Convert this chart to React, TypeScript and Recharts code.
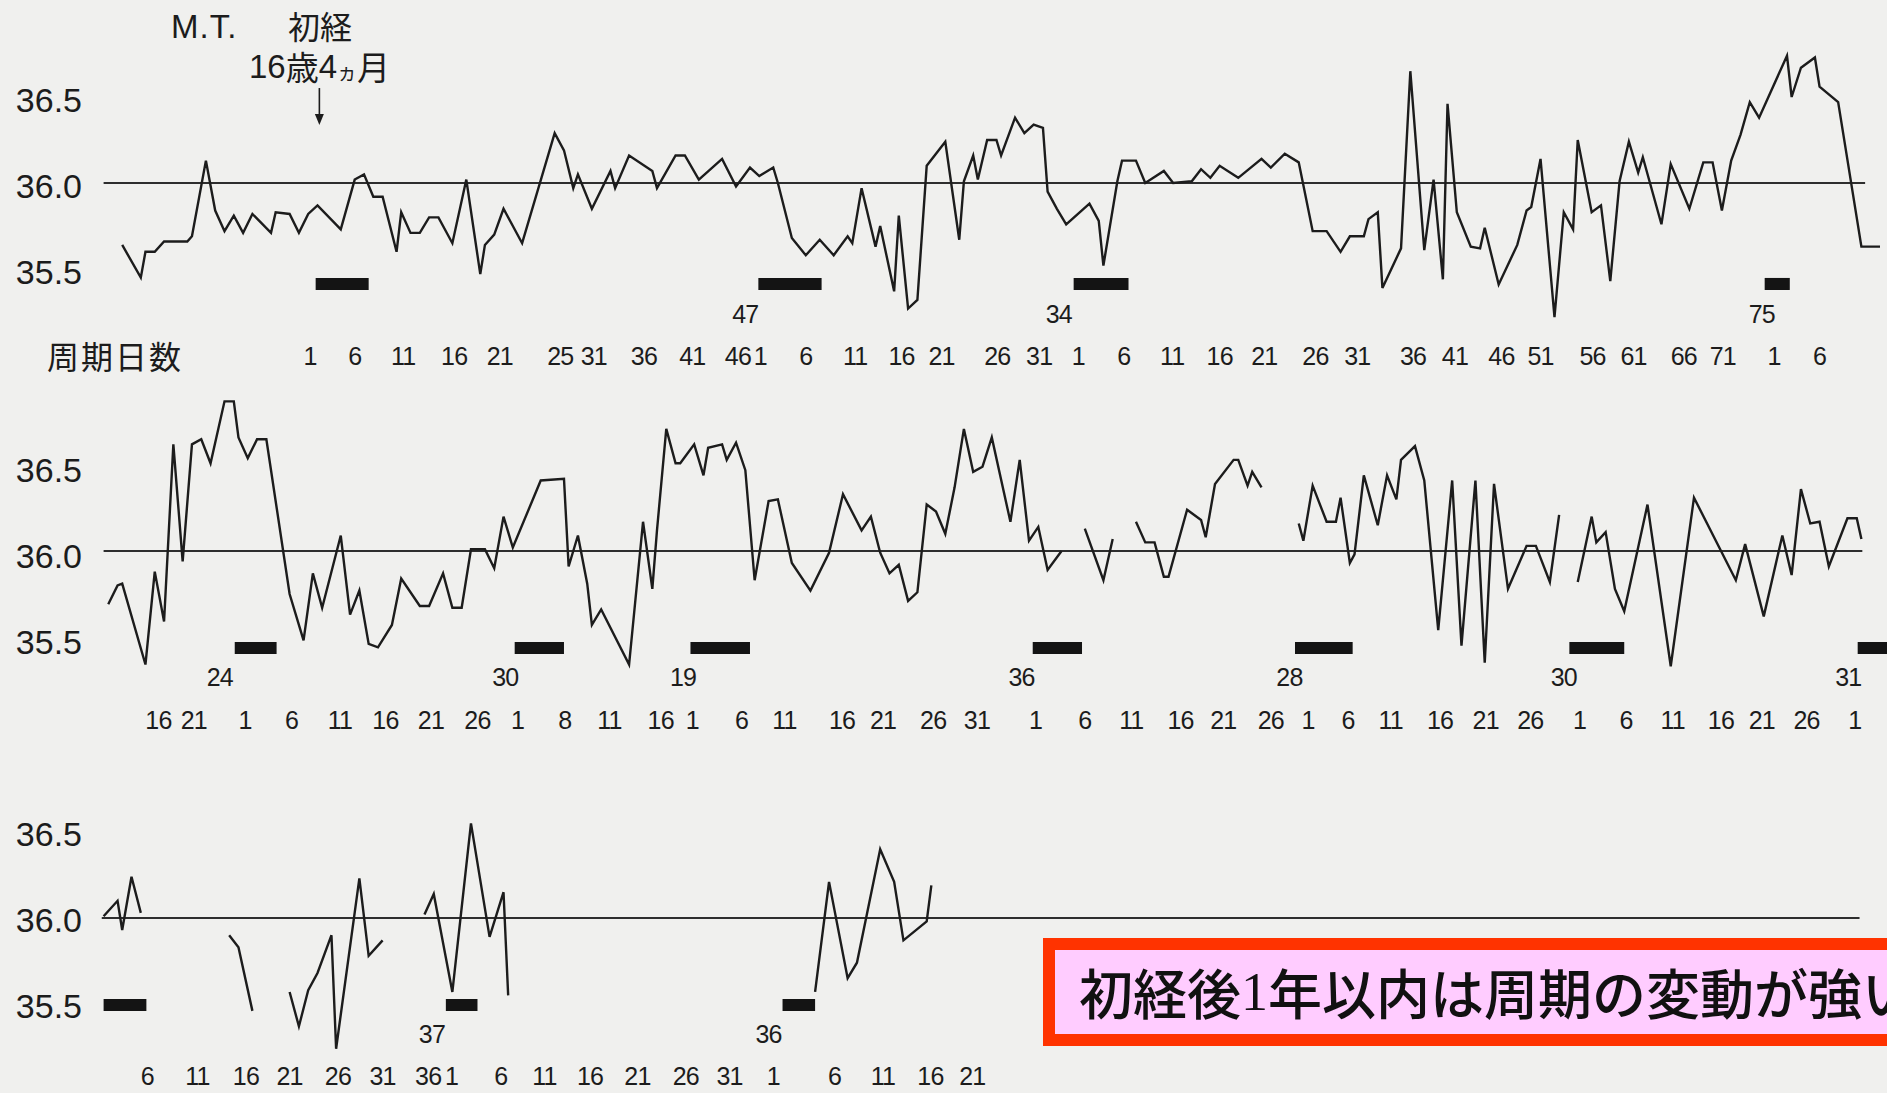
import {
  Line,
  LineChart,
  ReferenceArea,
  ReferenceDot,
  ReferenceLine,
  XAxis,
  YAxis,
} from "recharts";

// basal body temperature, [day index, °C]; null marks a break in the record
type Reading = [number, number | null];
type Label = [number, string];
type Span = [number, number];

const tempTicks = [35.5, 36.0, 36.5];

const row1Temps: Reading[] = [
  [2, 35.64], [4, 35.45], [4.5, 35.6], [5.5, 35.6], [6.5, 35.66], [9, 35.66], [9.5, 35.69],
  [11, 36.13], [12, 35.84], [13, 35.72], [14, 35.81], [15, 35.71], [16, 35.82], [18, 35.71],
  [18.5, 35.83], [20, 35.82], [21, 35.71], [22, 35.82], [23, 35.87], [25.5, 35.73], [27, 36.02],
  [28, 36.05], [29, 35.92], [30, 35.92], [31.5, 35.6], [32, 35.83], [33, 35.71], [34, 35.71],
  [35, 35.8], [36, 35.8], [37.5, 35.65], [39, 36.02], [40.5, 35.47], [41, 35.64], [42, 35.7],
  [43, 35.85], [45, 35.65], [48.5, 36.29], [49.5, 36.19], [50.5, 35.97], [51, 36.05],
  [52.5, 35.85], [54.5, 36.07], [55, 35.97], [56.5, 36.16], [59, 36.07], [59.5, 35.97],
  [61.5, 36.16], [62.5, 36.16], [64, 36.02], [66.5, 36.14], [68, 35.98], [69.5, 36.09],
  [70.5, 36.04], [72, 36.09], [72.5, 36.0], [74, 35.68], [75.5, 35.58], [77, 35.67],
  [78.5, 35.58], [80, 35.69], [80.5, 35.65], [81.5, 35.97], [83, 35.63], [83.5, 35.75],
  [85, 35.37], [85.5, 35.81], [86.5, 35.27], [87.5, 35.32], [88.5, 36.1], [90.5, 36.24],
  [92, 35.67], [92.5, 36.01], [93.5, 36.16], [94, 36.02], [95, 36.25], [96, 36.25],
  [96.5, 36.16], [98, 36.38], [99, 36.29], [100, 36.34], [101, 36.32], [101.5, 35.95],
  [102.5, 35.85], [103.5, 35.76], [106, 35.88], [107, 35.78], [107.5, 35.52], [109, 36.01],
  [109.5, 36.13], [111, 36.13], [112, 36.0], [114, 36.07], [115, 36.0], [117, 36.01],
  [118, 36.08], [119, 36.03], [120, 36.1], [122, 36.03], [124.5, 36.14], [125.5, 36.09],
  [127, 36.17], [128.5, 36.12], [130, 35.72], [131.5, 35.72], [133, 35.6], [134, 35.69],
  [135.5, 35.69], [136, 35.79], [137, 35.83], [137.5, 35.39], [139.5, 35.62], [140.5, 36.65],
  [142, 35.61], [143, 36.02], [144, 35.44], [144.5, 36.46], [145.5, 35.83], [147, 35.63],
  [148, 35.62], [148.5, 35.74], [150, 35.41], [152, 35.64], [153, 35.84], [153.5, 35.86],
  [154.5, 36.14], [156, 35.22], [157, 35.83], [158, 35.73], [158.5, 36.25], [160, 35.83],
  [161, 35.87], [162, 35.43], [163, 36.01], [164, 36.24], [165, 36.06], [165.5, 36.15],
  [167.5, 35.76], [168.5, 36.11], [170.5, 35.85], [172, 36.12], [173, 36.12], [174, 35.84],
  [175, 36.13], [176, 36.28], [177, 36.47], [178, 36.38], [181, 36.74], [181.5, 36.5],
  [182.5, 36.67], [184, 36.73], [184.5, 36.56], [186.5, 36.47], [189, 35.63], [191, 35.63],
];

const row1Days: Label[] = [
  [22.2, "1"], [27, "6"], [32.2, "11"], [37.7, "16"], [42.6, "21"], [49.1, "25"], [52.7, "31"],
  [58.1, "36"], [63.3, "41"], [68.2, "46"], [70.6, "1"], [75.5, "6"], [80.8, "11"], [85.8, "16"],
  [90.1, "21"], [96.1, "26"], [100.6, "31"], [104.8, "1"], [109.7, "6"], [114.9, "11"],
  [120, "16"], [124.8, "21"], [130.3, "26"], [134.8, "31"], [140.8, "36"], [145.3, "41"],
  [150.3, "46"], [154.5, "51"], [160.1, "56"], [164.5, "61"], [169.9, "66"], [174.1, "71"],
  [179.6, "1"], [184.5, "6"],
];
const row1Cycles: Label[] = [[69, "47"], [102.7, "34"], [178.3, "75"]];
const row1Menses: Span[] = [[22.8, 28.5], [70.4, 77.2], [104.3, 110.2], [178.6, 181.3]];

const row2Temps: Reading[] = [
  [0.5, 35.69], [1.5, 35.8], [2, 35.81], [4.5, 35.34], [5.5, 35.88], [6.5, 35.59], [7.5, 36.62],
  [8.5, 35.94], [9.5, 36.62], [10.5, 36.65], [11.5, 36.51], [13, 36.87], [14, 36.87],
  [14.5, 36.66], [15.5, 36.54], [16.5, 36.65], [17.5, 36.65], [20, 35.75], [21.5, 35.48],
  [22.5, 35.87], [23.5, 35.67], [25.5, 36.09], [26.5, 35.63], [27.5, 35.77], [28.5, 35.46],
  [29.5, 35.44], [31, 35.57], [32, 35.84], [34, 35.68], [35, 35.68], [36.5, 35.87],
  [37.5, 35.67], [38.5, 35.67], [39.5, 36.01], [41, 36.01], [42, 35.9], [43, 36.2], [44, 36.02],
  [47, 36.41], [49.5, 36.42], [50, 35.91], [51, 36.09], [52, 35.81], [52.5, 35.57],
  [53.5, 35.66], [56.5, 35.34], [58, 36.17], [59, 35.78], [59.5, 36.12], [60.5, 36.71],
  [61.5, 36.51], [62, 36.51], [63.5, 36.62], [64.5, 36.44], [65, 36.6], [66.5, 36.62],
  [67, 36.53], [68, 36.63], [69, 36.47], [70, 35.83], [71.5, 36.29], [72.5, 36.3], [74, 35.93],
  [76, 35.77], [78, 35.99], [79.5, 36.33], [81.5, 36.12], [82.5, 36.2], [83.5, 35.99],
  [84.5, 35.87], [85.5, 35.92], [86.5, 35.71], [87.5, 35.76], [88.5, 36.27], [89.5, 36.23],
  [90.5, 36.1], [91.5, 36.37], [92.5, 36.71], [93.5, 36.46], [94.5, 36.49], [95.5, 36.66],
  [97.5, 36.17], [98.5, 36.53], [99.5, 36.06], [100.5, 36.14], [101.5, 35.89], [103, 36.0],
  [104, null],
  [105.5, 36.13], [107.5, 35.83], [108.5, 36.07],
  [110, null],
  [111, 36.17], [112, 36.05], [113, 36.05], [114, 35.85], [114.5, 35.85], [116.5, 36.24],
  [118, 36.18], [118.5, 36.08], [119.5, 36.39], [121.5, 36.53], [122, 36.53], [123, 36.38],
  [123.5, 36.46], [124.5, 36.37],
  [126, null],
  [128.5, 36.16], [129, 36.06], [130, 36.38], [131.5, 36.17], [132.5, 36.17], [133, 36.31],
  [134, 35.93], [134.5, 35.98], [135.5, 36.44], [137, 36.15], [138, 36.44], [139, 36.3],
  [139.5, 36.53], [141, 36.61], [142, 36.41], [143.5, 35.54], [145, 36.41], [146, 35.45],
  [147.5, 36.41], [148.5, 35.35], [149.5, 36.39], [151, 35.78], [153, 36.03], [154, 36.03],
  [155.5, 35.82], [156.5, 36.21],
  [157.5, null],
  [158.5, 35.82], [160, 36.2], [160.5, 36.05], [161.5, 36.11], [162.5, 35.78], [163.5, 35.65],
  [166, 36.27], [168.5, 35.33], [171, 36.31], [175.5, 35.83], [176.5, 36.04], [178.5, 35.62],
  [180.5, 36.09], [181.5, 35.86], [182.5, 36.36], [183.5, 36.16], [184.5, 36.17],
  [185.5, 35.91], [187.5, 36.19], [188.5, 36.19], [189, 36.07],
];

const row2Days: Label[] = [
  [5.9, "16"], [9.7, "21"], [15.2, "1"], [20.2, "6"], [25.4, "11"], [30.3, "16"], [35.2, "21"],
  [40.2, "26"], [44.5, "1"], [49.6, "8"], [54.4, "11"], [59.9, "16"], [63.3, "1"], [68.6, "6"],
  [73.2, "11"], [79.4, "16"], [83.8, "21"], [89.2, "26"], [93.9, "31"], [100.2, "1"],
  [105.5, "6"], [110.5, "11"], [115.8, "16"], [120.4, "21"], [125.5, "26"], [129.5, "1"],
  [133.8, "6"], [138.4, "11"], [143.7, "16"], [148.6, "21"], [153.4, "26"], [158.7, "1"],
  [163.7, "6"], [168.7, "11"], [173.9, "16"], [178.3, "21"], [183.1, "26"], [188.3, "1"],
];
const row2Cycles: Label[] = [
  [12.5, "24"], [43.2, "30"], [62.3, "19"], [98.7, "36"], [127.5, "28"], [157, "30"], [187.6, "31"],
];
const row2Menses: Span[] = [
  [14.1, 18.6], [44.2, 49.5], [63.1, 69.5], [99.9, 105.2], [128.1, 134.3], [157.6, 163.5], [188.6, 191.8],
];

const row3Temps: Reading[] = [
  [0, 36.01], [1.5, 36.1], [2, 35.93], [3, 36.24], [4, 36.03],
  [5, null],
  [13.5, 35.9], [14.5, 35.83], [16, 35.46],
  [18, null],
  [20, 35.57], [21, 35.37], [22, 35.58], [23, 35.68], [24.5, 35.9], [25, 35.24], [27.5, 36.23],
  [28.5, 35.78], [30, 35.87],
  [32, null],
  [34.5, 36.02], [35.5, 36.14], [37.5, 35.57], [39.5, 36.55], [41.5, 35.89], [43, 36.15],
  [43.5, 35.55],
  [60, null],
  [76.5, 35.57], [78, 36.21], [80, 35.65], [81, 35.74], [83.5, 36.4], [85, 36.21], [86, 35.87],
  [88.5, 35.98], [89, 36.19],
];

const row3Days: Label[] = [
  [4.7, "6"], [10.1, "11"], [15.3, "16"], [20, "21"], [25.2, "26"], [30, "31"], [34.9, "36"],
  [37.4, "1"], [42.7, "6"], [47.4, "11"], [52.3, "16"], [57.4, "21"], [62.6, "26"], [67.3, "31"],
  [72, "1"], [78.6, "6"], [83.8, "11"], [88.9, "16"], [93.4, "21"],
];
const row3Cycles: Label[] = [[35.3, "37"], [71.5, "36"]];
const row3Menses: Span[] = [[0, 4.6], [36.8, 40.2], [73, 76.5]];

// day of menarche, pointed to by the arrow in the first row
const menarcheDay = 23.2;

const LATIN = '"Liberation Sans", Arial, "Noto Sans CJK JP", sans-serif';
const CJK = '"Noto Sans CJK JP", "Liberation Sans", sans-serif';
const INK = "#1c1c1c";

const CHART_W = 1887;
const CHART_H = 385;
const DOMAIN: [number, number] = [-2, 191];

type RowProps = {
  top: number;
  temps: Reading[];
  days: Label[];
  cycles: Label[];
  menses: Span[];
  baseline: Span;
  barTemps: Span;
  dayDy: number;
  cycleDy: number;
  yDy: number;
  arrowAt?: number;
};

function labelTick(labels: Label[], dy: number) {
  const byPos = new Map(labels.map(([p, l]) => [p, l]));
  return (props: any) => {
    const { x, y, payload } = props;
    return (
      <text
        x={x}
        y={y + dy}
        textAnchor="middle"
        dominantBaseline="central"
        fontFamily={LATIN}
        fontSize={25}
        letterSpacing={-0.8}
        fill={INK}
      >
        {byPos.get(payload.value)}
      </text>
    );
  };
}

function TempRow(p: RowProps) {
  const data = p.temps.map(([d, t]) => ({ d, t }));
  return (
    <div style={{ position: "absolute", left: 0, top: p.top }}>
      <LineChart
        width={CHART_W}
        height={CHART_H}
        data={data}
        margin={{ top: 11, right: 7, bottom: 28, left: 0 }}
      >
        <XAxis
          xAxisId="day"
          dataKey="d"
          type="number"
          domain={DOMAIN}
          ticks={p.days.map(([pos]) => pos)}
          interval={0}
          height={1}
          axisLine={false}
          tickLine={false}
          tickSize={0}
          tickMargin={0}
          tick={labelTick(p.days, p.dayDy)}
        />
        <XAxis
          xAxisId="cyc"
          dataKey="d"
          type="number"
          domain={DOMAIN}
          ticks={p.cycles.map(([pos]) => pos)}
          interval={0}
          height={1}
          axisLine={false}
          tickLine={false}
          tickSize={0}
          tickMargin={0}
          tick={labelTick(p.cycles, p.cycleDy - 1)}
        />
        <YAxis
          type="number"
          domain={[35, 37]}
          ticks={tempTicks}
          width={85}
          axisLine={false}
          tickLine={false}
          tickSize={0}
          tickMargin={3}
          tick={(props: any) => (
            <text
              x={props.x}
              y={props.y + p.yDy}
              textAnchor="end"
              dominantBaseline="central"
              fontFamily={LATIN}
              fontSize={34}
              fill={INK}
            >
              {Number(props.payload.value).toFixed(1)}
            </text>
          )}
        />
        <ReferenceLine
          xAxisId="day"
          segment={[
            { x: p.baseline[0], y: 36 },
            { x: p.baseline[1], y: 36 },
          ]}
          stroke="#2e2e2e"
          strokeWidth={1.8}
          ifOverflow="visible"
        />
        {p.menses.map(([a, b]) => (
          <ReferenceArea
            key={a}
            xAxisId="day"
            x1={a}
            x2={b}
            y1={p.barTemps[0]}
            y2={p.barTemps[1]}
            fill="#141414"
            fillOpacity={1}
            stroke="none"
            ifOverflow="visible"
          />
        ))}
        {p.arrowAt !== undefined && (
          <ReferenceDot
            xAxisId="day"
            x={p.arrowAt}
            y={36.337}
            r={0}
            ifOverflow="visible"
            shape={(s: any) => (
              <g>
                <line x1={s.cx} y1={s.cy - 37} x2={s.cx} y2={s.cy - 9} stroke={INK} strokeWidth={1.6} />
                <path d={`M${s.cx - 4.5},${s.cy - 11} L${s.cx + 4.5},${s.cy - 11} L${s.cx},${s.cy} Z`} fill={INK} />
              </g>
            )}
          />
        )}
        <Line
          xAxisId="day"
          dataKey="t"
          type="linear"
          stroke={INK}
          strokeWidth={2.4}
          strokeLinejoin="miter"
          dot={false}
          connectNulls={false}
          isAnimationActive={false}
        />
      </LineChart>
    </div>
  );
}

export default function App() {
  return (
    <div
      style={{
        position: "absolute",
        left: 0,
        top: 0,
        width: 1887,
        height: 1093,
        overflow: "hidden",
        background: "#f0f0ee",
      }}
    >
      <svg width={1887} height={1093} style={{ position: "absolute", left: 0, top: 0 }}>
        <text x={171} y={26} dominantBaseline="central" fontFamily={LATIN} fontSize={33} letterSpacing={1} fill={INK}>
          M.T.
        </text>
        <text x={288} y={25} dominantBaseline="central" fontFamily={CJK} fontSize={32} fill={INK}>
          初経
        </text>
        <text x={249} y={66} dominantBaseline="central" fontFamily={LATIN} fontSize={33} fill={INK}>
          16<tspan fontFamily={CJK}>歳</tspan>4
          <tspan fontFamily={CJK} fontSize={20} dy={5}>ヵ</tspan>
          <tspan fontFamily={CJK} dy={-5}>月</tspan>
        </text>
        <text x={47} y={355} dominantBaseline="central" fontFamily={CJK} fontSize={32} letterSpacing={2} fill={INK}>
          周期日数
        </text>
      </svg>

      <TempRow
        top={0}
        temps={row1Temps}
        days={row1Days}
        cycles={row1Cycles}
        menses={row1Menses}
        baseline={[0, 189.4]}
        barTemps={[35.378, 35.448]}
        dayDy={0}
        cycleDy={-40}
        yDy={3}
        arrowAt={menarcheDay}
      />
      <TempRow
        top={368}
        temps={row2Temps}
        days={row2Days}
        cycles={row2Cycles}
        menses={row2Menses}
        baseline={[0, 189.1]}
        barTemps={[35.401, 35.471]}
        dayDy={-4}
        cycleDy={-45}
        yDy={5}
      />
      <TempRow
        top={735}
        temps={row3Temps}
        days={row3Days}
        cycles={row3Cycles}
        menses={row3Menses}
        baseline={[-0.2, 188.8]}
        barTemps={[35.459, 35.529]}
        dayDy={-15}
        cycleDy={-55}
        yDy={2}
      />

      <div
        style={{
          position: "absolute",
          left: 1043,
          top: 938,
          width: 920,
          height: 108,
          boxSizing: "border-box",
          border: "12px solid #ff3300",
          background: "#ffccff",
          paddingLeft: 24,
          display: "flex",
          alignItems: "center",
          fontFamily: CJK,
          fontSize: 54,
          fontWeight: 500,
          color: "#111",
          whiteSpace: "nowrap",
          lineHeight: 1,
        }}
      >
        初経後<span style={{ fontFamily: '"Liberation Serif", serif' }}>1</span>年以内は周期の変動が強い
      </div>
    </div>
  );
}
